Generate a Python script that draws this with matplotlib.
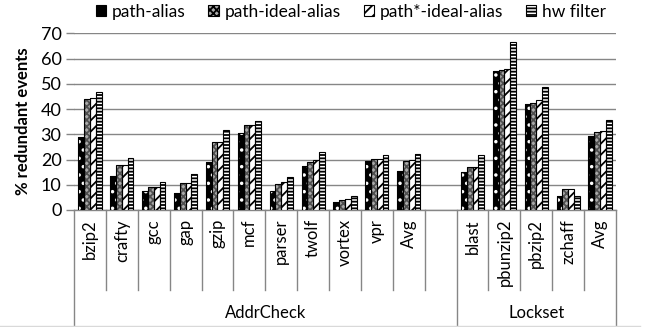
import matplotlib
matplotlib.use("Agg")
import matplotlib.pyplot as plt
import matplotlib.transforms as mtransforms
from matplotlib.patches import Patch
import numpy as np

plt.rcParams['font.family'] = ['Lato', 'DejaVu Sans']
plt.rcParams['hatch.linewidth'] = 1.3

# benchmark names per tool (an empty slot separates the two groups)
addrcheck_benchmarks = ["bzip2", "crafty", "gcc", "gap", "gzip", "mcf",
                        "parser", "twolf", "vortex", "vpr", "Avg"]
lockset_benchmarks = ["blast", "pbunzip2", "pbzip2", "zchaff", "Avg"]
group_names = ["AddrCheck", "Lockset"]
series_names = ["path-alias", "path-ideal-alias", "path*-ideal-alias", "hw filter"]

# % redundant events
path_alias = [29.1, 13.6, 7.5, 6.9, 19.2, 30.6, 7.5, 17.6, 3.0, 19.3, 15.3,
              15.1, 54.9, 41.9, 5.5, 29.3]
path_ideal_alias = [43.9, 17.8, 9.0, 10.7, 26.8, 33.5, 10.3, 19.0, 3.8, 20.1, 19.4,
                    16.9, 55.3, 42.5, 8.3, 30.8]
path_star_ideal_alias = [44.2, 17.8, 9.0, 10.7, 26.8, 33.8, 11.0, 19.7, 4.2, 20.1, 19.7,
                         16.9, 55.7, 43.5, 8.3, 31.2]
hw_filter = [46.6, 20.5, 11.0, 14.3, 31.7, 35.4, 13.1, 22.8, 5.4, 21.9, 22.3,
             21.8, 66.4, 48.7, 5.7, 35.7]

yticks = [0, 10, 20, 30, 40, 50, 60, 70]

FS = 12
W, H = 646, 327
fig = plt.figure(figsize=(W / 100, H / 100), dpi=100)
ax = fig.add_axes([74 / W, 1 - 210 / H, (616 - 74) / W, (210 - 33.3) / H])

n_a = len(addrcheck_benchmarks)
n_l = len(lockset_benchmarks)
x = np.concatenate([np.arange(n_a), np.arange(n_l) + n_a + 1]).astype(float)
labels = addrcheck_benchmarks + lockset_benchmarks

series = [path_alias, path_ideal_alias, path_star_ideal_alias, hw_filter]
# (face colour, hatch colour, hatch)
styles = [("black", "white", ".."),
          ("#aaaaaa", "#505050", "xxxxx"),
          ("white", "black", "///"),
          ("white", "black", "-----")]
bw = 0.182
legend_handles = []
for k, (vals, (fc, hc, hatch)) in enumerate(zip(series, styles)):
    pos = x + (k - 1.5) * bw
    ax.bar(pos, vals, width=bw, color=fc, edgecolor=hc, hatch=hatch,
           linewidth=0, zorder=3)
    ax.bar(pos, vals, width=bw, fill=False, edgecolor="black",
           linewidth=0.8, zorder=4)
    legend_handles.append(Patch(facecolor=fc, edgecolor="black",
                                hatch=hatch if fc != "black" else None,
                                linewidth=0.8))

ax.set_xlim(-0.5, n_a + n_l + 0.5)
ax.set_ylim(0, 70)
ax.set_yticks(yticks)
ax.set_yticklabels([str(t) for t in yticks], fontsize=13)
ax.tick_params(axis="y", length=6, width=1, color="#868686", pad=3)
ax.yaxis.grid(True, color="#868686", linewidth=1)
ax.set_axisbelow(True)
for s in ["top", "right", "left"]:
    ax.spines[s].set_visible(False)
ax.spines["bottom"].set_color("#868686")
ax.spines["bottom"].set_linewidth(1)
ax.set_xticks([])
ax.set_ylabel("% redundant events", fontsize=FS, fontweight="bold", labelpad=7)

# category labels and separators below the axis
trans = mtransforms.blended_transform_factory(ax.transData, fig.transFigure)
y_axis = 1 - 210 / H
y_cat = 1 - 290 / H
y_grp = 1 - 325.5 / H
for xi, lab in zip(x, labels):
    ax.text(xi, 1 - 219 / H, lab, transform=trans, rotation=90,
            ha="center", va="top", fontsize=FS)
boundaries = np.arange(0, n_a + n_l + 1) - 0.5
group_edges = [-0.5, n_a + 0.5, n_a + n_l + 0.5]
for b in boundaries:
    if b in group_edges:
        continue
    ax.plot([b, b], [y_axis, y_cat], transform=trans, color="#868686",
            linewidth=1, clip_on=False)
for b in group_edges:
    ax.plot([b, b], [y_axis, y_grp], transform=trans, color="#868686",
            linewidth=1, clip_on=False)
ax.text((group_edges[0] + group_edges[1]) / 2, 1 - 313 / H, group_names[0],
        transform=trans, ha="center", va="center", fontsize=FS)
ax.text((group_edges[1] + group_edges[2]) / 2, 1 - 313 / H, group_names[1],
        transform=trans, ha="center", va="center", fontsize=FS)

# chart area lower border
fig.add_artist(plt.Line2D([0, 640 / W], [1 - 325.5 / H, 1 - 325.5 / H],
                          color="#d9d9d9", linewidth=1))

fig.legend(legend_handles, series_names, loc="center",
           bbox_to_anchor=(351 / W, 1 - 12 / H), ncol=4, frameon=False,
           fontsize=12.5, handlelength=0.6, handleheight=0.6,
           handletextpad=0.35, columnspacing=1.3, borderpad=0)

fig.savefig("out.png", dpi=100)
